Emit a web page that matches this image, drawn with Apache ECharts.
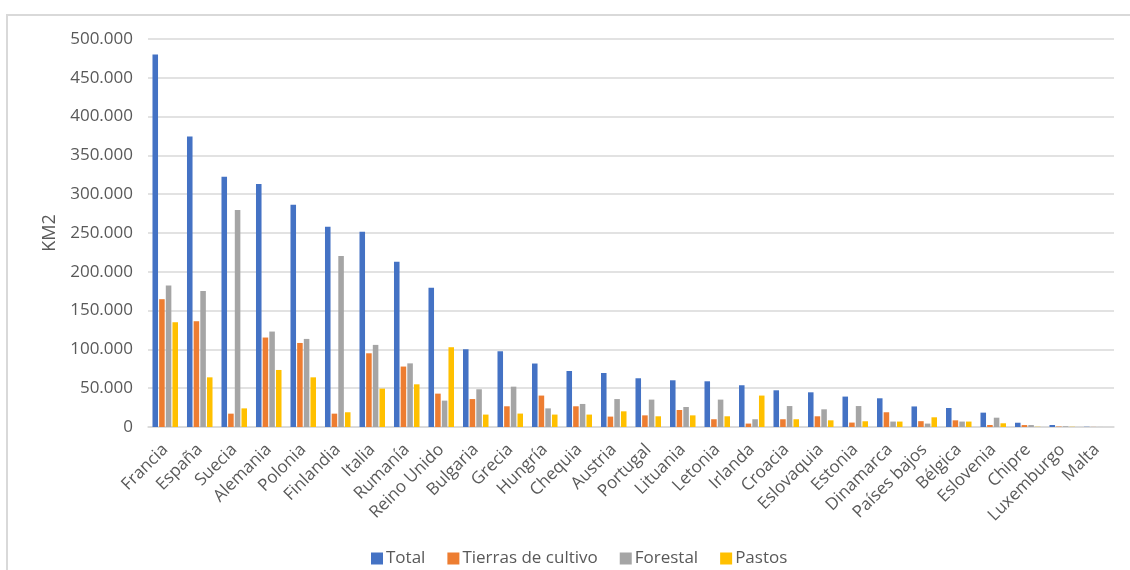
<!DOCTYPE html>
<html>
<head>
<meta charset="utf-8">
<script src="https://cdn.jsdelivr.net/npm/echarts@6/dist/echarts.min.js"></script>
<style>
  html, body { margin: 0; padding: 0; background: #ffffff; }
  #chart { width: 1130px; height: 570px; }
</style>
</head>
<body>
<div id="chart"></div>
<script>
// Superficie por país (km²)
const paises = ['Francia', 'España', 'Suecia', 'Alemania', 'Polonia', 'Finlandia', 'Italia', 'Rumanía',
  'Reino Unido', 'Bulgaria', 'Grecia', 'Hungría', 'Chequia', 'Austria', 'Portugal', 'Lituania', 'Letonia',
  'Irlanda', 'Croacia', 'Eslovaquia', 'Estonia', 'Dinamarca', 'Países bajos', 'Bélgica', 'Eslovenia',
  'Chipre', 'Luxemburgo', 'Malta'];

const total = [480000, 374500, 322500, 313000, 286300, 258000, 251500, 212800, 179300, 100200, 97600, 81800,
  72200, 69600, 62800, 60200, 58900, 53800, 47300, 44700, 39200, 37000, 26500, 24500, 18500, 5500, 2600, 300];

const tierrasCultivo = [164700, 136300, 17200, 115300, 108300, 17200, 95000, 77900, 43000, 36000, 26700, 40500,
  26700, 13400, 15000, 21900, 10000, 4400, 10000, 13800, 5700, 19000, 7500, 8600, 2600, 2500, 600, 100];

const forestal = [182400, 175400, 279500, 123000, 113500, 220500, 105800, 82000, 34000, 48600, 52000, 24000,
  29700, 36000, 35300, 25800, 35300, 10000, 27000, 22800, 27000, 7000, 4400, 7000, 12000, 2500, 900, 50];

const pastos = [135000, 64000, 24000, 73500, 64000, 19000, 49500, 55000, 102800, 16000, 17300, 16000,
  16000, 20200, 13800, 15000, 13800, 40500, 10000, 8600, 7400, 7000, 12500, 7000, 4800, 300, 300, 0];

const seriesNames = ['Total', 'Tierras de cultivo', 'Forestal', 'Pastos'];
const seriesData = [total, tierrasCultivo, forestal, pastos];
const colors = ['#4472C4', '#ED7D31', '#A5A5A5', '#FFC000'];

const FONT = '"Open Sans", "Noto Sans", sans-serif';
const TEXT = '#595959';

// Separador de miles con punto: 500000 -> "500.000"
function miles(v) {
  return String(Math.round(v)).replace(/\B(?=(\d{3})+(?!\d))/g, '.');
}

const chart = echarts.init(document.getElementById('chart'), null, { renderer: 'canvas' });

chart.setOption({
  animation: false,
  color: colors,
  textStyle: { fontFamily: FONT },
  graphic: [{
    type: 'rect',
    shape: { x: 7, y: 15, width: 1200, height: 620 },
    style: { fill: 'none', stroke: '#d9d9d9', lineWidth: 2 },
    silent: true
  }],
  grid: { left: 148, right: 16, top: 39, bottom: 143 },
  legend: {
    data: seriesNames,
    left: 366,
    top: 545,
    itemWidth: 12,
    itemHeight: 12,
    itemGap: 22,
    icon: 'rect',
    textStyle: { color: TEXT, fontSize: 17, fontFamily: FONT, padding: [0, 0, 0, -2] }
  },
  xAxis: {
    type: 'category',
    data: paises,
    axisLine: { show: true, lineStyle: { color: '#d9d9d9', width: 1.5 } },
    axisTick: { show: false },
    axisLabel: {
      interval: 0,
      rotate: 45,
      margin: 20,
      color: TEXT,
      fontSize: 17,
      fontFamily: FONT
    }
  },
  yAxis: {
    type: 'value',
    min: 0,
    max: 500000,
    interval: 50000,
    name: 'KM2',
    nameLocation: 'middle',
    nameGap: 88,
    nameRotate: 90,
    nameTextStyle: { color: TEXT, fontSize: 18, fontFamily: FONT },
    axisLine: { show: false },
    axisTick: { show: false },
    splitLine: { lineStyle: { color: '#d9d9d9', width: 1.5 } },
    axisLabel: {
      color: TEXT,
      fontSize: 17,
      fontFamily: FONT,
      margin: 15,
      formatter: miles
    }
  },
  series: seriesNames.map((name, i) => ({
    name: name,
    type: 'bar',
    data: seriesData[i],
    barGap: '20%',
    barCategoryGap: '26%',
    itemStyle: { color: colors[i] }
  }))
});
</script>
</body>
</html>
